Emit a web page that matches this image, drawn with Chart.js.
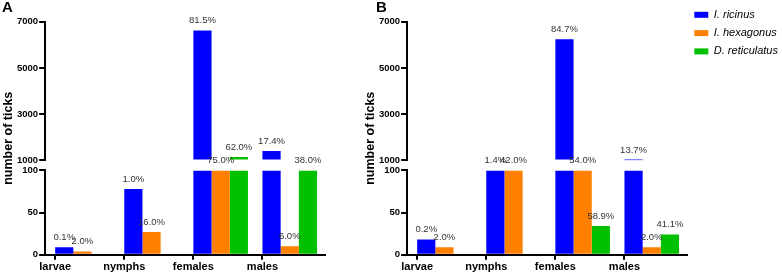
<!DOCTYPE html>
<html><head><meta charset="utf-8">
<script src="https://cdn.jsdelivr.net/npm/chart.js@4"></script>
<style>
html,body{margin:0;padding:0;background:#fff;}
#wrap{position:relative;width:782px;height:275px;overflow:hidden;background:#fff;}
.panel{position:absolute;top:0;height:275px;}
#pA{left:0;width:360px;}
#pB{left:362px;width:420px;}
.letter{position:absolute;top:-1px;font:bold 15px/1 "Liberation Sans",Arial,sans-serif;color:#000;}
</style></head><body>
<div id="wrap">
  <div class="panel" id="pA"><canvas id="cA" width="360" height="275"></canvas></div>
  <div class="panel" id="pB"><canvas id="cB" width="420" height="275"></canvas></div>
  <div class="letter" style="left:2px">A</div>
  <div class="letter" style="left:376px">B</div>
</div>
<script>
const categories = ['larvae', 'nymphs', 'females', 'males'];
const species = ['I. ricinus', 'I. hexagonus', 'D. reticulatus'];

// Panel A: number of ticks
const A_ricinus     = [9, 78, 6620, 1410];
const A_hexagonus   = [4, 27, 128, 10];
const A_reticulatus = [null, null, 1150, 700];
// Panel A: percentage labels
const A_ricinus_pct     = ['0.1%', '1.0%', '81.5%', '17.4%'];
const A_hexagonus_pct   = ['2.0%', '16.0%', '75.0%', '6.0%'];
const A_reticulatus_pct = [null, null, '62.0%', '38.0%'];

// Panel B: number of ticks
const B_ricinus     = [18, 103, 6240, 1010];
const B_hexagonus   = [9, 190, 245, 9];
const B_reticulatus = [null, null, 34, 24];
// Panel B: percentage labels
const B_ricinus_pct     = ['0.2%', '1.4%', '84.7%', '13.7%'];
const B_hexagonus_pct   = ['2.0%', '42.0%', '54.0%', '2.0%'];
const B_reticulatus_pct = [null, null, '58.9%', '41.1%'];

// Broken y axis tick labels
const lowerTicks = [0, 50, 100];
const upperTicks = [1000, 3000, 5000, 7000];

const LOWER_MAX = lowerTicks[lowerTicks.length - 1];
const UPPER_MIN = upperTicks[0];
const UPPER_MAX = upperTicks[upperTicks.length - 1];
const colors = ['#0000FF', '#FF8000', '#00C000'];
const CAT_PCT = 0.79;
const FONT = '"Liberation Sans", Arial, sans-serif';

const axisLine = {display: true, color: '#000', width: 2};
const tickMarks = {display: true, drawOnChartArea: false, drawTicks: true, tickLength: 6, color: '#000', lineWidth: 2, offset: false};
const tickFont = {family: FONT, size: 9.5, weight: 'bold'};
const hiddenGrid = {display: false, drawTicks: false};

function buildChart(canvasId, counts, pcts, showLegend, padRight) {
  const datasets = [];
  counts.forEach((vals, s) => datasets.push({
    label: species[s], stack: 'sp' + s, xAxisID: 'x', yAxisID: 'yLow',
    backgroundColor: colors[s], borderWidth: 0,
    barPercentage: 1, categoryPercentage: CAT_PCT,
    data: vals.map((v, i) => ({x: i, y: v == null ? null : Math.min(v, LOWER_MAX)}))
  }));
  counts.forEach((vals, s) => datasets.push({
    label: species[s], stack: 'sp' + s, xAxisID: 'x', yAxisID: 'yUp', base: UPPER_MIN,
    backgroundColor: colors[s], borderWidth: 0,
    barPercentage: 1, categoryPercentage: CAT_PCT,
    data: vals.map((v, i) => ({x: i, y: (v != null && v >= UPPER_MIN) ? v : null}))
  }));

  const pctLabels = {
    id: 'pctLabels',
    afterDatasetsDraw(chart) {
      const ctx = chart.ctx;
      ctx.save();
      ctx.font = '9.5px ' + FONT;
      ctx.fillStyle = '#333';
      ctx.textAlign = 'center';
      ctx.textBaseline = 'middle';
      chart.data.datasets.forEach((ds, di) => {
        const s = di % 3;
        const isUpper = di >= 3;
        const meta = chart.getDatasetMeta(di);
        meta.data.forEach((el, i) => {
          const v = counts[s][i];
          const txt = pcts[s][i];
          if (v == null || !txt) return;
          if ((v >= UPPER_MIN) !== isUpper) return;
          ctx.fillText(txt, el.x, el.y - 10);
        });
      });
      ctx.restore();
    }
  };

  return new Chart(document.getElementById(canvasId), {
    type: 'bar',
    data: {datasets},
    options: {
      responsive: false,
      maintainAspectRatio: false,
      animation: false,
      events: [],
      layout: {padding: {top: 2, left: 0, right: padRight, bottom: 0}},
      plugins: {
        tooltip: {enabled: false},
        title: {display: false},
        legend: {
          display: showLegend, position: 'right', align: 'start', maxWidth: 95,
          labels: {
            boxWidth: 14, boxHeight: 6, padding: 7.3, color: '#000',
            font: {family: FONT, size: 11, style: 'italic'},
            filter: item => item.datasetIndex < 3
          }
        }
      },
      scales: {
        x: {
          type: 'linear', position: 'bottom', min: -0.54, max: 3.51, offset: false,
          border: axisLine,
          grid: Object.assign({}, tickMarks, {tickLength: 5}),
          ticks: {color: '#000', font: {family: FONT, size: 11, weight: 'bold'}, padding: 1,
                  maxRotation: 0, autoSkip: false, callback: (v, i) => categories[i]},
          afterBuildTicks: sc => { sc.ticks = categories.map((c, i) => ({value: i - CAT_PCT / 2})); }
        },
        xTop: {
          type: 'linear', position: 'top', display: true,
          grid: hiddenGrid, border: {display: false}, ticks: {display: false},
          afterFit: sc => { sc.height = 19.7; }
        },
        yTitle: {
          type: 'linear', position: 'left', weight: 10,
          grid: hiddenGrid, border: {display: false}, ticks: {display: false},
          title: {display: true, text: 'number of ticks', color: '#000',
                  font: {family: FONT, size: 12.5, weight: 'bold'}, padding: {top: 1, bottom: 0}}
        },
        yUp: {
          type: 'linear', position: 'left', stack: 'ys', stackWeight: 139, weight: 3, stacked: false,
          min: UPPER_MIN, max: UPPER_MAX,
          border: axisLine, grid: tickMarks,
          ticks: {color: '#000', font: tickFont, padding: 1, autoSkip: false, callback: v => String(v)},
          afterBuildTicks: sc => { sc.ticks = upperTicks.map(v => ({value: v})); }
        },
        yGap: {
          type: 'linear', position: 'left', stack: 'ys', stackWeight: 10, weight: 2,
          grid: hiddenGrid, border: {display: false}, ticks: {display: false}
        },
        yLow: {
          type: 'linear', position: 'left', stack: 'ys', stackWeight: 84.6, weight: 1, stacked: false,
          min: 0, max: LOWER_MAX,
          border: axisLine, grid: tickMarks,
          ticks: {color: '#000', font: tickFont, padding: 1, autoSkip: false, callback: v => String(v)},
          afterBuildTicks: sc => { sc.ticks = lowerTicks.map(v => ({value: v})); }
        }
      }
    },
    plugins: [pctLabels]
  });
}

buildChart('cA',
  [A_ricinus, A_hexagonus, A_reticulatus],
  [A_ricinus_pct, A_hexagonus_pct, A_reticulatus_pct], false, 35);
buildChart('cB',
  [B_ricinus, B_hexagonus, B_reticulatus],
  [B_ricinus_pct, B_hexagonus_pct, B_reticulatus_pct], true, 0);
</script>
</body></html>
